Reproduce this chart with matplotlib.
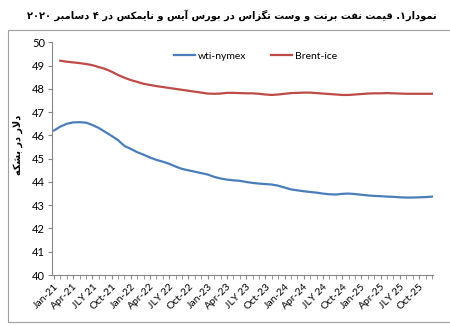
import numpy as np
import matplotlib
matplotlib.use('Agg')
import matplotlib.pyplot as plt
from matplotlib.patches import Rectangle

# Datos mensuales (ene-21 .. dic-25)
wti = [46.21, 46.38, 46.50, 46.56, 46.57, 46.55, 46.45, 46.32, 46.15, 45.98,
       45.80, 45.55, 45.42, 45.28, 45.17, 45.05, 44.95, 44.87, 44.78, 44.66,
       44.56, 44.50, 44.44, 44.38, 44.32, 44.22, 44.15, 44.10, 44.07, 44.05,
       44.00, 43.96, 43.93, 43.91, 43.89, 43.84, 43.76, 43.68, 43.64, 43.60,
       43.57, 43.54, 43.50, 43.47, 43.46, 43.49, 43.50, 43.48, 43.45, 43.42,
       43.40, 43.39, 43.37, 43.36, 43.34, 43.33, 43.33, 43.34, 43.35, 43.37]
brent = [np.nan, 49.21, 49.17, 49.14, 49.11, 49.07, 49.02, 48.94, 48.86, 48.74,
         48.60, 48.48, 48.38, 48.30, 48.22, 48.17, 48.12, 48.08, 48.04, 48.00,
         47.96, 47.92, 47.88, 47.84, 47.80, 47.79, 47.80, 47.83, 47.83, 47.82,
         47.81, 47.81, 47.79, 47.76, 47.74, 47.76, 47.79, 47.82, 47.83, 47.84,
         47.84, 47.82, 47.80, 47.78, 47.76, 47.74, 47.74, 47.76, 47.78, 47.80,
         47.81, 47.81, 47.82, 47.81, 47.80, 47.79, 47.79, 47.79, 47.79, 47.79]
tick_labels = ['Jan-21', 'Apr-21', 'JLY 21', 'Oct-21', 'Jan-22', 'Apr-22', 'JLY 22', 'Oct-22',
               'Jan-23', 'Apr-23', 'JLY 23', 'Oct-23', 'Jan-24', 'Apr-24', 'JLY 24', 'Oct-24',
               'Jan-25', 'Apr-25', 'JLY 25', 'Oct-25']
titulo = 'نمودار۱. قیمت نفت برنت و وست تگزاس در بورس آیس و نایمکس در ۴ دسامبر ۲۰۲۰'
ylabel = 'دلار در بشکه'

# formas de presentacion (aislada, final, inicial, media)
FORMS = {
    'ا': ('\uFE8D', '\uFE8E', None, None),
    'آ': ('\uFE81', '\uFE82', None, None),
    'ب': ('\uFE8F', '\uFE90', '\uFE91', '\uFE92'),
    'ت': ('\uFE95', '\uFE96', '\uFE97', '\uFE98'),
    'د': ('\uFEA9', '\uFEAA', None, None),
    'ر': ('\uFEAD', '\uFEAE', None, None),
    'ز': ('\uFEAF', '\uFEB0', None, None),
    'س': ('\uFEB1', '\uFEB2', '\uFEB3', '\uFEB4'),
    'ش': ('\uFEB5', '\uFEB6', '\uFEB7', '\uFEB8'),
    'ف': ('\uFED1', '\uFED2', '\uFED3', '\uFED4'),
    'ق': ('\uFED5', '\uFED6', '\uFED7', '\uFED8'),
    'ل': ('\uFEDD', '\uFEDE', '\uFEDF', '\uFEE0'),
    'م': ('\uFEE1', '\uFEE2', '\uFEE3', '\uFEE4'),
    'ن': ('\uFEE5', '\uFEE6', '\uFEE7', '\uFEE8'),
    'ه': ('\uFEE9', '\uFEEA', '\uFEEB', '\uFEEC'),
    'و': ('\uFEED', '\uFEEE', None, None),
    'ی': ('\uFBFC', '\uFBFD', '\uFBFE', '\uFBFF'),
    'ک': ('\uFB8E', '\uFB8F', '\uFB90', '\uFB91'),
    'گ': ('\uFB92', '\uFB93', '\uFB94', '\uFB95'),
}


def shape(txt):
    # ligadura lam-alef
    txt = txt.replace('لا', '\uE000')
    FORMS['\uE000'] = ('\uFEFB', '\uFEFC', None, None)
    out = []
    n = len(txt)
    for i, c in enumerate(txt):
        if c not in FORMS:
            out.append(c)
            continue
        prev = txt[i - 1] if i > 0 else ''
        nxt = txt[i + 1] if i < n - 1 else ''
        jp = prev in FORMS and FORMS[prev][2] is not None
        jn = nxt in FORMS and FORMS[c][2] is not None
        f = FORMS[c]
        if jp and jn:
            out.append(f[3])
        elif jp:
            out.append(f[1])
        elif jn:
            out.append(f[2])
        else:
            out.append(f[0])
    s = ''.join(out)[::-1]
    # los digitos van de izquierda a derecha
    res, run = [], ''
    for c in s:
        if '\u06F0' <= c <= '\u06F9':
            run += c
        else:
            res.append(run[::-1]); run = ''
            res.append(c)
    res.append(run[::-1])
    return ''.join(res)


plt.rcParams['font.family'] = ['Lato', 'DejaVu Sans']
fig = plt.figure(figsize=(4.5, 3.26), dpi=100)
ax = fig.add_axes([0.1156, 0.1564, 0.8464, 0.7136])

x = np.arange(len(wti))
ax.plot(x, wti, color='#4a7ebb', lw=1.6, label='wti-nymex')
ax.plot(x, brent, color='#be4b48', lw=1.6, label='Brent-ice')

ax.set_ylim(40, 50)
ax.set_yticks(np.arange(40, 51, 1))
ax.set_xlim(-0.3, 59.15)
ax.set_xticks(np.arange(0, 60, 3))
ax.set_xticklabels(tick_labels, rotation=45, ha='right', rotation_mode='anchor', fontsize=7.5)
ax.set_xticks(np.arange(0, 60), minor=True)
ax.tick_params(axis='y', labelsize=8, length=3, color='#868686', pad=2)
ax.tick_params(axis='x', which='both', length=3, color='#868686', pad=2)
for s in ['top', 'right']:
    ax.spines[s].set_visible(False)
for s in ['left', 'bottom']:
    ax.spines[s].set_color('#868686')

ax.legend(loc='upper center', bbox_to_anchor=(0.535, 1.0), ncol=2, frameon=False,
          fontsize=7.5, handlelength=2.0, columnspacing=2.4, handletextpad=0.3)

fig.text(0.04, 0.555, shape(ylabel), rotation=90, ha='center', va='center',
         fontsize=7, fontweight='bold', family='DejaVu Sans')
fig.text(0.97, 0.955, shape(titulo), ha='right', va='center', fontsize=7.1,
         fontweight='bold', family='DejaVu Sans')

fig.patches.append(Rectangle((8 / 450, 4 / 326), 450, 292 / 326, transform=fig.transFigure,
                             fill=False, edgecolor='#a0a0a0', lw=0.8))

plt.savefig('out.png', dpi=100)
